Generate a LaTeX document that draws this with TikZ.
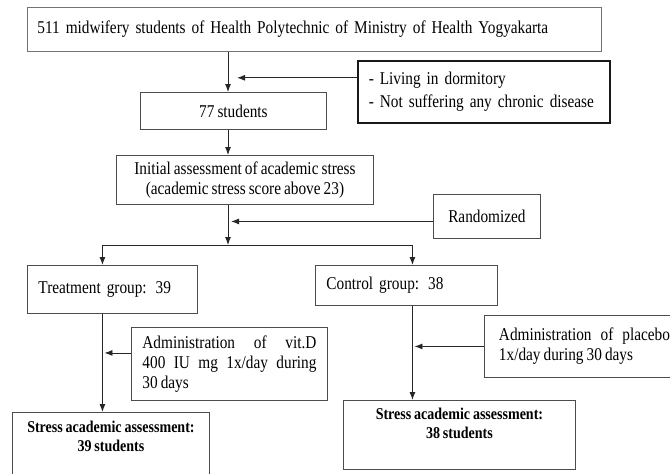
\documentclass[tikz,border=0pt]{standalone}
\usepackage{fontspec}
\setmainfont{Liberation Serif}[FakeStretch=0.85,WordSpace=0.8]
\usepackage{tikz}
\usetikzlibrary{arrows,arrows.meta,positioning}
\tikzset{main box/.style={rectangle,draw=black!70,line width=0.9pt,inner sep=0pt,anchor=north west,font=\fontsize{18}{20}\selectfont},}
\tikzset{main arrow/.style={-{Latex[length=8pt,width=6pt]},line width=0.9pt,draw=black!85},}
\tikzset{main bold/.style={align=center,anchor=north,inner sep=0pt,font=\fontsize{16.5}{19}\selectfont\bfseries},}

\begin{document}
\begin{tikzpicture}[x=1pt,y=-1pt]
    \useasboundingbox (0,0) rectangle (670,474);
    \clip (0,0) rectangle (670,474);
    \node[main box,draw=black!55,line width=0.8pt,minimum width=574pt,minimum height=44pt,text width=554pt,inner xsep=10pt,align=left] (pop) at (27,7) {511 midwifery students of Health Polytechnic of Ministry of Health Yogyakarta};
    \node[main box,draw=black!90,line width=1.6pt,minimum width=252pt,minimum height=62pt,text width=230pt,inner xsep=11pt,align=left] (excl) at (357,60) {- Living in dormitory\\[3pt]- Not suffering any chronic disease};
    \node[main box,minimum width=186pt,minimum height=37pt,align=center] (n77) at (140,92) {77 students};
    \node[main box,minimum width=257pt,minimum height=49pt,align=center] (init) at (116,155) {Initial assessment of academic stress\\(academic stress score above 23)};
    \node[main box,minimum width=107pt,minimum height=44pt,align=center] (rand) at (433,194) {Randomized};
    \node[main box,minimum width=170pt,minimum height=48pt,text width=148pt,inner xsep=11pt,align=left] (treat) at (27,265) {Treatment group: 39};
    \node[main box,minimum width=182pt,minimum height=40pt,text width=160pt,inner xsep=11pt,align=left] (ctrl) at (315,265) {Control group: 38};
    \node[main box,minimum width=196pt,minimum height=73pt,text width=174pt,inner xsep=11pt,align=justify] (vitd) at (131,327) {Administration of vit.D\linebreak 400 IU mg 1x/day during\linebreak 30 days};
    \node[main box,minimum width=200pt,minimum height=62pt,text width=171pt,inner xsep=12pt,align=justify] (plac) at (484,315) {Administration of placebo\linebreak 1x/day during 30 days};
    \node[main box,minimum width=197pt,minimum height=80pt] (sl) at (12,412) {};
    \node[main bold] (sl text) at ([yshift=-9pt]sl.north) {Stress academic assessment:\\39 students};
    \node[main box,minimum width=232pt,minimum height=69pt] (sr) at (343,400) {};
    \node[main bold] (sr text) at ([yshift=-8pt]sr.north) {Stress academic assessment:\\38 students};

    \coordinate (split) at (228,245);
    \coordinate (tline) at ([xshift=-10pt]treat.south);
    \coordinate (cline) at ([xshift=6pt]ctrl.south);

    \draw[main arrow] (pop.south -| split) -- (n77.north -| split);
    \draw[main arrow,shorten >=9pt] ([yshift=14pt]excl.west) -- ([yshift=14pt]excl.west -| split);
    \draw[main arrow] (n77.south -| split) -- (init.north -| split);
    \draw[main arrow] (init.south -| split) -- (split);
    \draw[main arrow,shorten >=3pt] ([yshift=-5pt]rand.west) -- ([yshift=-5pt]rand.west -| split);
    \draw[main arrow] (split) -| (treat.north -| tline);
    \draw[main arrow] (split) -| (ctrl.north -| cline);
    \draw[main arrow] (tline) -- (tline |- sl.north);
    \draw[main arrow,shorten >=2pt] ([yshift=11pt]vitd.west) -- ([yshift=11pt]vitd.west -| tline);
    \draw[main arrow] (cline) -- (cline |- sr.north);
    \draw[main arrow,shorten >=2pt] (plac.west) -- (plac.west -| cline);
\end{tikzpicture}
\end{document}
